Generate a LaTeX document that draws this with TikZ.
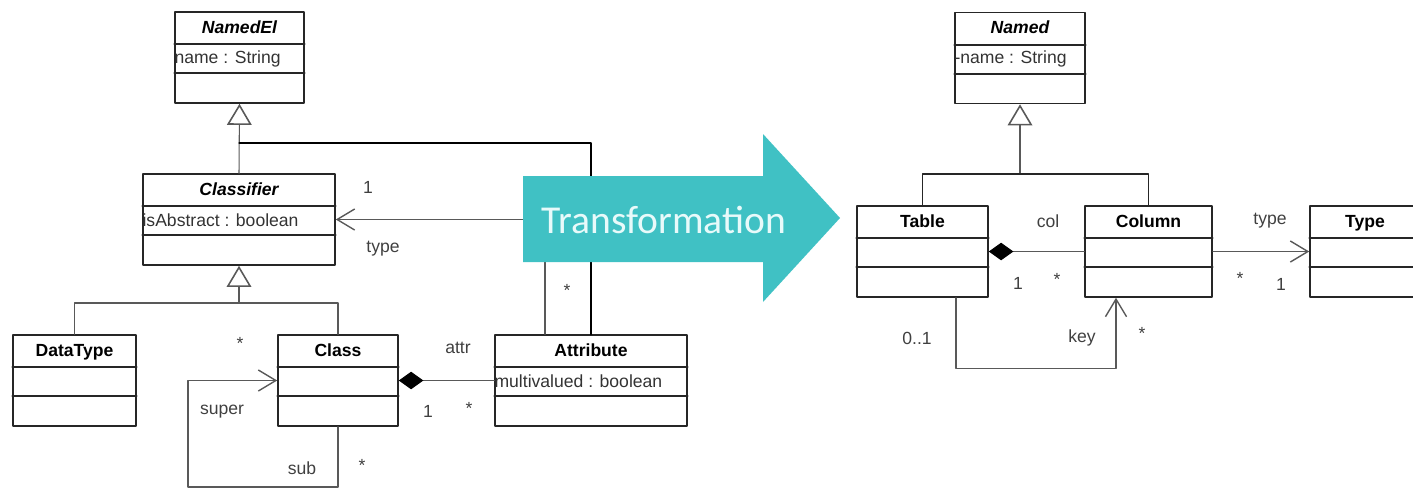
\documentclass[tikz,border=0pt]{standalone}
\usepackage{fontspec}
\setmainfont{Liberation Sans}
\newfontfamily\trfont{Carlito}
\usetikzlibrary{arrows.meta}
\definecolor{trcyan}{HTML}{40C1C4}
\definecolor{trtext}{HTML}{E8FAFA}

\begin{document}
\begin{tikzpicture}[x=0.02cm,y=-0.02cm,line cap=round,line join=round,
  every node/.style={inner sep=1pt,font=\fontsize{10}{12}\selectfont},
  cls/.style={draw=black!85,line width=0.9pt,minimum height=1.82cm,inner sep=0pt,minimum width=#1},
  sep/.style={draw=black!85,line width=0.9pt},
  ttl/.style={anchor=base,font=\fontsize{10}{12}\selectfont\bfseries},
  att/.style={anchor=west,inner sep=0pt,text=black!80},
  lnk/.style={draw=black!65,line width=0.6pt},
  gen/.style={lnk,-{Triangle[open,length=12pt,width=14pt,line width=0.9pt]}},
  nav/.style={lnk,-{Straight Barb[length=10pt,width=12pt,line width=0.8pt]}},
  comp/.style={lnk,{Diamond[length=14pt,width=10pt,color=black,fill=black]}-},
  lbl/.style={text=black!75}]
  \useasboundingbox (0,0) rectangle (1413,488);
  \node[cls=2.58cm] (namedel) at (239.5,57.5) {};
  \node[cls=3.84cm] (classifier) at (239,219.5) {};
  \node[cls=2.46cm] (datatype) at (74.5,380.5) {};
  \node[cls=2.4cm] (class) at (338,380.5) {};
  \node[cls=3.84cm] (attribute) at (591,380.5) {};
  \node[cls=2.6cm] (named) at (1020,58) {};
  \node[cls=2.62cm] (table) at (922.5,251.5) {};
  \node[cls=2.54cm] (column) at (1148.5,251.5) {};
  \node[cls=2.2cm] (type) at (1365,251.5) {};
  \foreach \n in {namedel,classifier,datatype,class,attribute,named,table,column,type}{
    \draw[sep] ([yshift=-0.66cm]\n.north west) -- ([yshift=-0.66cm]\n.north east);
    \draw[sep] ([yshift=-1.24cm]\n.north west) -- ([yshift=-1.24cm]\n.north east);
  }
  \node[ttl] (namedel-t) at ([yshift=-0.44cm]namedel.north) {\itshape NamedEl};
  \node[ttl] (classifier-t) at ([yshift=-0.44cm]classifier.north) {\itshape Classifier};
  \node[ttl] (datatype-t) at ([yshift=-0.44cm]datatype.north) {DataType};
  \node[ttl] (class-t) at ([yshift=-0.44cm]class.north) {Class};
  \node[ttl] (attribute-t) at ([yshift=-0.44cm]attribute.north) {Attribute};
  \node[ttl] (named-t) at ([yshift=-0.44cm]named.north) {\itshape Named};
  \node[ttl] (table-t) at ([yshift=-0.44cm]table.north) {Table};
  \node[ttl] (column-t) at ([yshift=-0.44cm]column.north) {Column};
  \node[ttl] (type-t) at ([yshift=-0.44cm]type.north) {Type};
  \node[att] (namedel-a) at ([yshift=-0.95cm]namedel.north west) {name : String};
  \node[att] (classifier-a) at ([yshift=-0.95cm]classifier.north west) {isAbstract : boolean};
  \node[att] (attribute-a) at ([yshift=-0.95cm]attribute.north west) {multivalued : boolean};
  \node[att] (named-a) at ([yshift=-0.95cm]named.north west) {-name : String};
  \coordinate (up1) at (239.5,143);
  \coordinate (up2) at (239,303);
  \coordinate (up3) at (1020,174);
  \coordinate (loop) at (188,487);
  \draw[gen] (classifier.north) -- (namedel.south);
  \draw[line width=1.5pt] (attribute.north) |- (up1);
  \draw[gen] (up2) -- (classifier.south);
  \draw[lnk] (datatype.north) |- (up2) -| (class.north);
  \draw[nav] ([xshift=-0.92cm]attribute.north) |- (classifier.east);
  \draw[nav] (class.south) |- (loop) |- (class.west);
  \draw[comp] (class.east) -- (attribute.west);
  \draw[gen] (up3) -- (named.south);
  \draw[lnk,draw=black!85,line width=0.9pt] (table.north) |- (up3) -| (column.north);
  \draw[comp] (table.east) -- (column.west);
  \draw[nav] (column.east) -- (type.west);
  \draw[nav] ([xshift=0.67cm]table.south) -- ++(0,71) -| ([xshift=-0.65cm]column.south);
  \fill[trcyan] (523,176) -- (763,176) -- (763,134) -- (840,218) -- (763,302) -- (763,262) -- (523,262) -- cycle;
  \node[anchor=base,text=trtext,font=\trfont\fontsize{22.5}{26}\selectfont] (trans) at (664,233) {Transformation};
  \node[lbl] (m1) at (368,187) {1};
  \node[lbl] (r1) at (383,249) {type};
  \node[lbl] (m2) at (567,290) {*};
  \node[lbl] (m3) at (240,343) {*};
  \node[lbl] (r2) at (222,412) {super};
  \node[lbl] (r3) at (302,468) {sub};
  \node[lbl] (m4) at (362,465) {*};
  \node[lbl] (r4) at (458,348) {attr};
  \node[lbl] (m5) at (428,411) {1};
  \node[lbl] (m6) at (469,408) {*};
  \node[lbl] (r5) at (1048,221) {col};
  \node[lbl] (m7) at (1018,283) {1};
  \node[lbl] (m8) at (1057,279) {*};
  \node[lbl] (r6) at (1270,221) {type};
  \node[lbl] (m9) at (1240,278) {*};
  \node[lbl] (m10) at (1281,284) {1};
  \node[lbl] (m11) at (917,338) {0..1};
  \node[lbl] (r7) at (1082,338) {key};
  \node[lbl] (m12) at (1142,333) {*};
\end{tikzpicture}
\end{document}
